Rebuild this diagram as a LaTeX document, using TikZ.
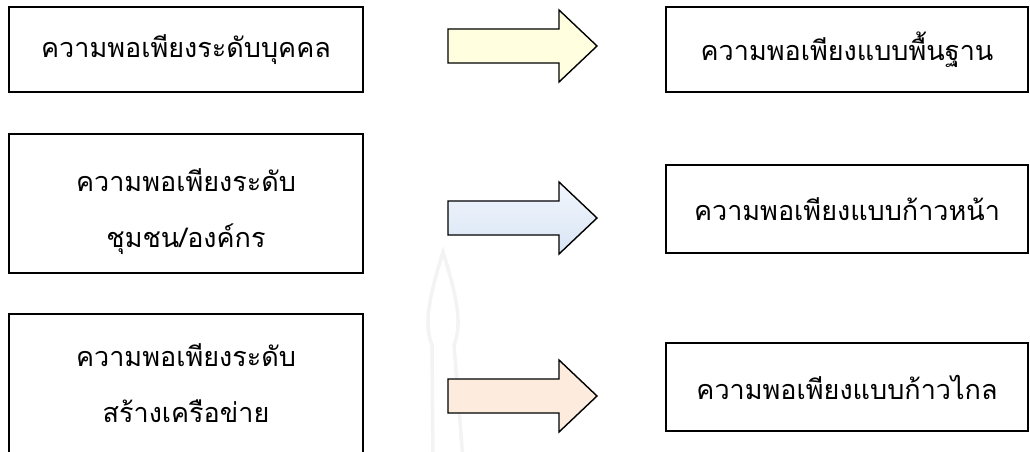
\documentclass[tikz,border=0pt]{standalone}
\usepackage{fontspec}
\newfontfamily\thaifont[Script=Thai]{Loma}
\definecolor{ylwTop}{HTML}{FFFFE0}
\definecolor{ylwMid}{HTML}{FFF8A8}
\definecolor{bluTop}{HTML}{F2F6FC}
\definecolor{bluMid}{HTML}{BFD3EE}
\definecolor{pchTop}{HTML}{FDEBDD}
\definecolor{pchMid}{HTML}{FBE3D2}
\definecolor{wmark}{HTML}{F3F3F3}
\newcommand\blockarrow[2]{%
  \path[arrowshape,#2] (#1) ++(0,-17) -- ++(111,0) -- ++(0,-19) -- ++(38,36)
    -- ++(-38,36) -- ++(0,-19) -- ++(-111,0) -- cycle;}
\begin{document}
\begin{tikzpicture}[x=1pt,y=-1pt,
  box/.style={draw, line width=1.6pt, inner sep=0pt, fill=white},
  txt/.style={inner sep=0pt, align=center, font=\thaifont\fontsize{27}{56}\selectfont},
  arrowshape/.style={draw, line width=1.4pt, line join=miter}]
\useasboundingbox (0,0) rectangle (1030,452);
\clip (0,0) rectangle (1030,452);
% faint watermark
\draw[wmark, line width=3.5pt] (433,460) -- (432,345) .. controls (424,325) and (428,300) .. (443,252)
  .. controls (458,300) and (462,325) .. (454,345) -- (463,460);
% left boxes
\node[box, minimum width=354pt, minimum height=85pt] (b1) at (186,49.5) {};
\node[txt] (t1) at (b1.center) {ความพอเพียงระดับบุคคล};
\node[box, minimum width=354pt, minimum height=139pt] (b2) at (186,203.5) {};
\node[txt] (t2) at (186,212) {ความพอเพียงระดับ\\ชุมชน/องค์กร};
\node[box, minimum width=354pt, minimum height=170pt] (b3) at (186,399) {};
\node[txt] (t3) at (186,383) {ความพอเพียงระดับ\\สร้างเครือข่าย};
% right boxes
\node[box, minimum width=362pt, minimum height=85pt] (r1) at (847,49.5) {};
\node[txt] (s1) at (r1.center) {ความพอเพียงแบบพื้นฐาน};
\node[box, minimum width=362pt, minimum height=88pt] (r2) at (847,209) {};
\node[txt] (s2) at (r2.center) {ความพอเพียงแบบก้าวหน้า};
\node[box, minimum width=362pt, minimum height=88pt] (r3) at (847,387) {};
\node[txt] (s3) at (r3.center) {ความพอเพียงแบบก้าวไกล};
% block arrows
\coordinate (a1) at (448,46);
\coordinate (a2) at (448,218);
\coordinate (a3) at (448,396);
\blockarrow{a1}{top color=ylwTop, middle color=ylwMid, bottom color=ylwTop}
\blockarrow{a2}{top color=bluTop, middle color=bluMid, bottom color=bluTop!50!bluMid}
\blockarrow{a3}{top color=pchTop, middle color=pchMid, bottom color=pchTop}
\end{tikzpicture}
\end{document}
